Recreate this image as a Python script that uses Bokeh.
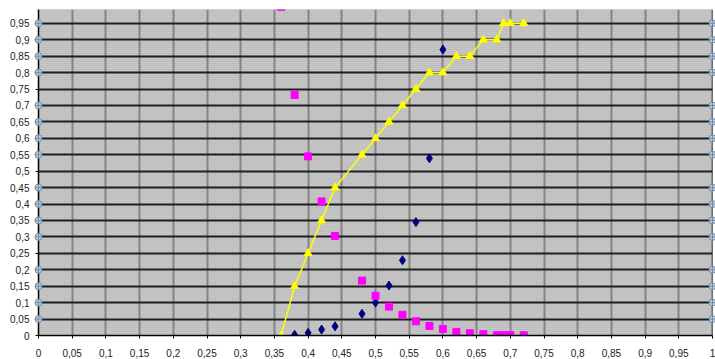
from bokeh.plotting import figure
from bokeh.models import FixedTicker, Range1d, Span
from bokeh.embed import file_html
from bokeh.resources import INLINE

# ---- data ----
x_ticks = [0, 0.05, 0.1, 0.15, 0.2, 0.25, 0.3, 0.35, 0.4, 0.45, 0.5,
           0.55, 0.6, 0.65, 0.7, 0.75, 0.8, 0.85, 0.9, 0.95, 1]
x_tick_labels = ["0", "0,05", "0,1", "0,15", "0,2", "0,25", "0,3", "0,35", "0,4", "0,45", "0,5",
                 "0,55", "0,6", "0,65", "0,7", "0,75", "0,8", "0,85", "0,9", "0,95", "1"]
y_ticks = [0, 0.05, 0.1, 0.15, 0.2, 0.25, 0.3, 0.35, 0.4, 0.45, 0.5,
           0.55, 0.6, 0.65, 0.7, 0.75, 0.8, 0.85, 0.9, 0.95]
y_tick_labels = ["0", "0,05", "0,1", "0,15", "0,2", "0,25", "0,3", "0,35", "0,4", "0,45", "0,5",
                 "0,55", "0,6", "0,65", "0,7", "0,75", "0,8", "0,85", "0,9", "0,95"]

yellow_x = [0.36, 0.38, 0.40, 0.42, 0.44, 0.48, 0.50, 0.52, 0.54, 0.56,
            0.58, 0.60, 0.62, 0.64, 0.66, 0.68, 0.69, 0.70, 0.72]
yellow_y = [0.0, 0.15, 0.25, 0.35, 0.45, 0.55, 0.60, 0.65, 0.70, 0.75,
            0.80, 0.80, 0.85, 0.85, 0.90, 0.90, 0.95, 0.95, 0.95]

magenta_x = [0.36, 0.38, 0.40, 0.42, 0.44, 0.48, 0.50, 0.52, 0.54, 0.56,
             0.58, 0.60, 0.62, 0.64, 0.66, 0.68, 0.69, 0.70, 0.72]
magenta_y = [1.0, 0.732, 0.545, 0.408, 0.303, 0.167, 0.121, 0.088, 0.063, 0.043,
             0.029, 0.020, 0.011, 0.007, 0.004, 0.001, 0.001, 0.001, 0.001]

navy_x = [0.38, 0.40, 0.42, 0.44, 0.48, 0.50, 0.52, 0.54, 0.56, 0.58, 0.60]
navy_y = [0.002, 0.008, 0.018, 0.028, 0.066, 0.100, 0.152, 0.229, 0.345, 0.539, 0.870]

marker_y = [0.05, 0.1, 0.15, 0.2, 0.3, 0.35, 0.4, 0.45,
            0.55, 0.6, 0.65, 0.7, 0.8, 0.85, 0.9, 0.95]
marker_left_x = [0.0] * len(marker_y)
marker_right_x = [1.0] * len(marker_y)

# ---- figure ----
p = figure(width=715, height=359, output_backend="svg", toolbar_location=None,
           x_range=Range1d(0, 1), y_range=Range1d(0, 0.992),
           min_border_left=38, min_border_right=3, min_border_top=9, min_border_bottom=23)
p.background_fill_color = "#c2c2c2"
p.border_fill_color = "white"
p.outline_line_color = None

# striped background
p.quad(left=[0], right=[1], bottom=[0], top=[1.05], fill_color="#c6c6c6", line_color=None,
       hatch_pattern="horizontal_line", hatch_color="#b6b6b6", hatch_weight=1, hatch_scale=2,
       level="image")

font = "Liberation Sans"

xa = p.xaxis[0]
xa.ticker = FixedTicker(ticks=x_ticks)
xa.major_label_overrides = {t: l for t, l in zip(x_ticks, x_tick_labels)}
ya = p.yaxis[0]
ya.ticker = FixedTicker(ticks=y_ticks)
ya.major_label_overrides = {t: l for t, l in zip(y_ticks, y_tick_labels)}

for ax in (xa, ya):
    ax.axis_line_color = "black"
    ax.axis_line_width = 1.5
    ax.major_tick_line_color = "black"
    ax.major_tick_out = 3
    ax.major_tick_in = 0
    ax.minor_tick_line_color = None
    ax.major_label_text_font = font
    ax.major_label_text_font_size = "10px"
    ax.major_label_text_color = "#222222"
xa.major_label_standoff = 10
ya.major_label_standoff = 6

# right-hand axis line
p.add_layout(Span(location=1, dimension="height", line_color="black", line_width=1.5))

p.xgrid.ticker = FixedTicker(ticks=x_ticks)
p.ygrid.ticker = FixedTicker(ticks=y_ticks)
p.xgrid.grid_line_color = "#858585"
p.xgrid.grid_line_width = 2
p.ygrid.grid_line_color = "#1e1e1e"
p.ygrid.grid_line_width = 2

# series
p.scatter(navy_x, navy_y, marker="diamond", size=9, fill_color="#000080", line_color="#000080")
p.scatter(magenta_x, magenta_y, marker="square", size=7, fill_color="#ff00ff", line_color="#ff00ff")
p.line(yellow_x, yellow_y, line_color="#ffff00", line_width=1.5)
p.scatter(yellow_x, yellow_y, marker="triangle", size=8, fill_color="#ffff00", line_color="#ffff00")

# axis tick circles
p.scatter(marker_left_x, marker_y, marker="circle_cross", size=7, fill_color="#c0ccd8",
          line_color="#6c8cb0", line_width=1, level="overlay")
p.scatter(marker_right_x, marker_y, marker="circle_cross", size=7, fill_color="#c0ccd8",
          line_color="#6c8cb0", line_width=1, level="overlay")

open("out.html", "w").write(file_html(p, INLINE))
